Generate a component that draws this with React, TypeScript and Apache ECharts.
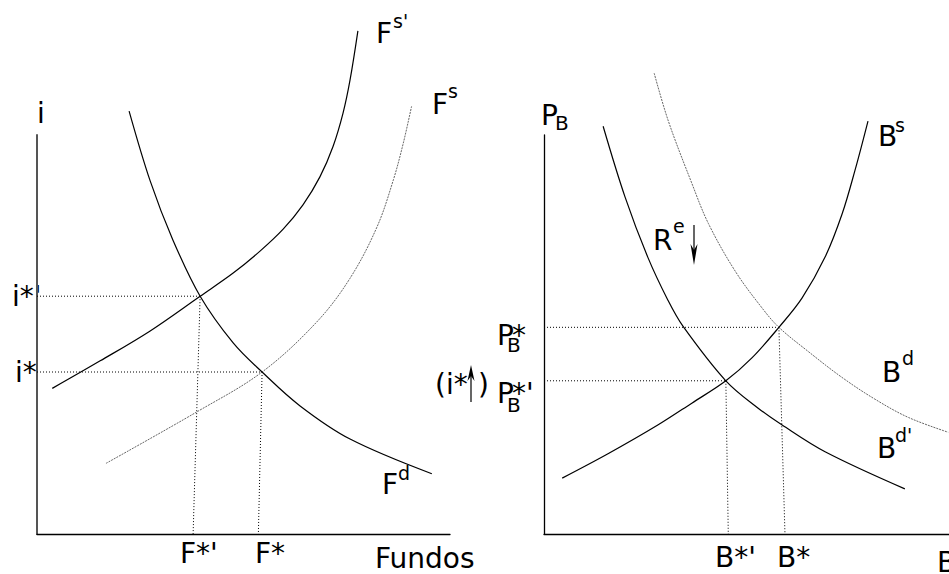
import React, { useEffect, useRef } from "react";
import * as echarts from "echarts";

// Left panel: loanable funds market (x: Fundos, y: i), arbitrary units 0..100
const fsPrime: [number, number][] = [
  [3.7, 36.5], [15.3, 43.4], [27.4, 50.9], [39.5, 59.6], [47.5, 65.4], [54.0, 70.9],
  [59.6, 76.4], [64.4, 82.5], [68.5, 89.5], [71.7, 97.2], [74.1, 105.5], [75.8, 113.8], [77.7, 126.1],
];
const fsSupply: [number, number][] = [
  [16.7, 17.7], [38.7, 30.6], [54.5, 40.6], [67.7, 53.1], [75.8, 64.1], [82.3, 76.9],
  [86.3, 88.8], [88.7, 98.0], [90.7, 107.2],
];
const fdDemand: [number, number][] = [
  [22.3, 106.0], [27.4, 88.5], [32.9, 73.7], [39.5, 59.6], [47.5, 47.9], [54.5, 40.6],
  [63.7, 32.1], [75.8, 23.8], [95.6, 15.1],
];
// equilibria: curve crossing (x, y) and the x where the guide meets the axis
const eqLeftNew = { x: 39.5, y: 59.6, foot: 37.8 }; // i*' / F*'
const eqLeftOld = { x: 54.5, y: 40.6, foot: 53.6 }; // i* / F*

// Right panel: bond market (x: B, y: P_B)
const bsSupply: [number, number][] = [
  [4.5, 14.0], [15.8, 20.1], [28.1, 27.3], [36.5, 32.8], [44.9, 38.4], [51.4, 44.2],
  [58.0, 51.8], [63.7, 59.1], [69.4, 69.4], [73.6, 80.2], [76.8, 91.2], [80.0, 103.5],
];
const bdDemand: [number, number][] = [
  [27.2, 115.5], [30.7, 103.5], [36.5, 87.9], [40.6, 77.8], [47.2, 65.9], [53.8, 56.7],
  [58.0, 51.8], [65.3, 45.7], [73.5, 39.3], [81.7, 33.8], [90.0, 29.2], [99.8, 25.5],
];
const bdPrime: [number, number][] = [
  [14.6, 102.2], [20.0, 84.5], [25.7, 69.2], [30.6, 58.6], [34.3, 52.1], [44.9, 38.4],
  [52.8, 31.6], [58.8, 27.3], [69.4, 20.6], [89.1, 11.3],
];
const eqRightOld = { x: 58.0, y: 51.8, foot: 59.5 }; // P*B / B*
const eqRightNew = { x: 44.9, y: 38.4, foot: 45.5 }; // P*B' / B*'

const FONT = "DejaVu Sans";

function txt(text: string, x: number, baseline: number, size = 28) {
  return {
    type: "text",
    x,
    y: baseline - 0.346 * size,
    silent: true,
    style: {
      text,
      fontSize: size,
      fontFamily: FONT,
      fill: "#000",
      textAlign: "left",
      verticalAlign: "middle",
    },
  };
}

function curve(data: [number, number][], idx: number, color: string, type: any, width = 1.2) {
  return {
    type: "line",
    xAxisIndex: idx,
    yAxisIndex: idx,
    data,
    smooth: 0.35,
    showSymbol: false,
    clip: false,
    silent: true,
    lineStyle: { color, width, type },
  };
}

function guides(eq: { x: number; y: number; foot: number }, idx: number) {
  const style = { color: "#000", width: 1, type: [1, 2] };
  return [
    {
      type: "line", xAxisIndex: idx, yAxisIndex: idx, showSymbol: false, silent: true, clip: false,
      data: [[0, eq.y], [eq.x, eq.y]], lineStyle: style,
    },
    {
      type: "line", xAxisIndex: idx, yAxisIndex: idx, showSymbol: false, silent: true, clip: false,
      data: [[eq.x, eq.y], [eq.foot, 0]], lineStyle: style,
    },
  ];
}

function axisX(grid: number) {
  return {
    gridIndex: grid, type: "value", min: 0, max: 100,
    axisLine: { show: true, onZero: false, lineStyle: { color: "#000", width: 1.3 } },
    axisTick: { show: false }, axisLabel: { show: false }, splitLine: { show: false },
  };
}
function axisY(grid: number, color: string, width: number) {
  return {
    gridIndex: grid, type: "value", min: 0, max: 100,
    axisLine: { show: true, onZero: false, lineStyle: { color, width } },
    axisTick: { show: false }, axisLabel: { show: false }, splitLine: { show: false },
  };
}

export default function App() {
  const ref = useRef<HTMLDivElement>(null);
  useEffect(() => {
    if (!ref.current) return;
    const chart = echarts.init(ref.current, null, { renderer: "svg" });
    const gray = "#666";
    chart.setOption({
      animation: false,
      backgroundColor: "#fff",
      grid: [
        { left: 37, top: 135, width: 413, height: 399 },
        { left: 544, top: 135, width: 405, height: 399 },
      ],
      xAxis: [axisX(0), axisX(1)],
      yAxis: [axisY(0, "#555", 2), axisY(1, "#000", 1.3)],
      series: [
        ...guides(eqLeftNew, 0),
        ...guides(eqLeftOld, 0),
        ...guides(eqRightOld, 1),
        ...guides(eqRightNew, 1),
        curve(fsSupply, 0, gray, [2, 1], 1),
        curve(fsPrime, 0, "#000", "solid"),
        curve(fdDemand, 0, "#000", "solid"),
        curve(bdDemand, 1, gray, [2, 1], 1),
        curve(bsSupply, 1, "#000", "solid"),
        curve(bdPrime, 1, "#000", "solid"),
      ],
      graphic: [
        // left panel
        txt("i", 37, 123),
        txt("i*'", 12, 306),
        txt("i*", 15, 382),
        txt("F*'", 180, 563),
        txt("F*", 255, 563),
        txt("Fundos", 375, 568),
        txt("F", 376, 43), txt("s'", 393, 28, 19),
        txt("F", 432, 114), txt("s", 448, 98, 19),
        txt("F", 382, 494), txt("d", 398, 480, 19),
        // middle annotation (i*↑)
        txt("(i*", 435, 394),
        txt(")", 478, 394),
        { type: "line", silent: true, shape: { x1: 471, y1: 402, x2: 471, y2: 372 }, style: { stroke: "#000", lineWidth: 1.2 } },
        { type: "polygon", silent: true, shape: { points: [[471, 365], [467.5, 381], [471, 376], [474.5, 381]] }, style: { fill: "#000" } },
        // right panel
        txt("P", 541, 125), txt("B", 555, 130, 20),
        txt("P", 497, 345), txt("*", 512, 345), txt("B", 507, 352, 20),
        txt("P", 497, 403), txt("*'", 512, 403), txt("B", 507, 412, 20),
        txt("R", 653, 250), txt("e", 673, 233, 19),
        { type: "line", silent: true, shape: { x1: 694, y1: 225, x2: 694, y2: 252 }, style: { stroke: "#000", lineWidth: 1.2 } },
        { type: "polygon", silent: true, shape: { points: [[694, 265], [690.5, 244], [694, 250], [697.5, 244]] }, style: { fill: "#000" } },
        txt("B", 878, 146), txt("s", 895, 132, 19),
        txt("B", 882, 382), txt("d", 902, 365, 19),
        txt("B", 877, 458), txt("d'", 895, 442, 19),
        txt("B*'", 715, 567),
        txt("B*", 777, 567),
        txt("B", 937, 572),
      ],
    });
    return () => chart.dispose();
  }, []);
  return (
    <div
      ref={ref}
      style={{ position: "fixed", left: 0, top: 0, width: 949, height: 574, background: "#fff" }}
    />
  );
}
